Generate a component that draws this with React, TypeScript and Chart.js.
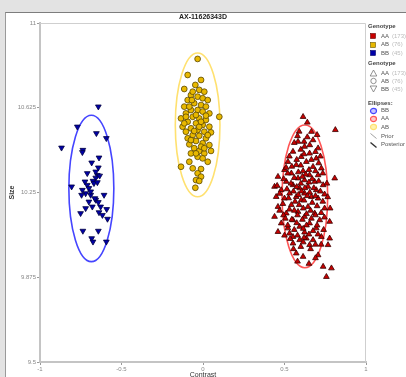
import React, { useEffect, useRef } from 'react';
import { Chart, registerables } from 'chart.js';

Chart.register(...registerables);

const TITLE = 'AX-11626343D';
const X_TITLE = 'Contrast';
const Y_TITLE = 'Size';
const X_MIN = -1;
const X_MAX = 1;
const X_STEP = 0.5;
const Y_MIN = 9.5;
const Y_MAX = 11;
const Y_STEP = 0.375;

// Genotype BB (blue, inverted triangles)
const BB_POINTS: [number, number][] = [
  [-0.642, 10.63], [-0.771, 10.541], [-0.654, 10.512], [-0.593, 10.49], [-0.868, 10.448],
  [-0.737, 10.438], [-0.74, 10.428], [-0.638, 10.404], [-0.683, 10.382], [-0.642, 10.36],
  [-0.71, 10.335], [-0.648, 10.327], [-0.658, 10.315], [-0.675, 10.301], [-0.806, 10.276],
  [-0.74, 10.261], [-0.71, 10.283], [-0.689, 10.239], [-0.72, 10.246], [-0.658, 10.217],
  [-0.642, 10.207], [-0.607, 10.239], [-0.7, 10.209], [-0.679, 10.187], [-0.72, 10.18],
  [-0.591, 10.176], [-0.638, 10.162], [-0.751, 10.158], [-0.617, 10.15], [-0.586, 10.133],
  [-0.737, 10.08], [-0.642, 10.08], [-0.683, 10.047], [-0.675, 10.032], [-0.593, 10.032],
  [-0.669, 10.291], [-0.648, 10.295], [-0.7, 10.269], [-0.663, 10.224], [-0.745, 10.239],
  [-0.628, 10.187], [-0.658, 10.342], [-0.634, 10.324], [-0.724, 10.298], [-0.689, 10.254],
];

// Genotype AB (yellow, circles)
const AB_POINTS: [number, number][] = [
  [-0.033, 10.841], [-0.094, 10.77], [-0.012, 10.748], [-0.115, 10.708], [-0.047, 10.726],
  [-0.023, 10.704], [0.008, 10.696], [-0.074, 10.681], [-0.033, 10.674], [-0.002, 10.667],
  [-0.094, 10.659], [0.029, 10.659], [-0.054, 10.645], [-0.012, 10.637], [-0.115, 10.63],
  [0.018, 10.63], [-0.074, 10.615], [-0.033, 10.615], [-0.105, 10.6], [-0.002, 10.608],
  [0.039, 10.6], [-0.063, 10.585], [0.1, 10.585], [-0.135, 10.578], [-0.023, 10.578],
  [0.018, 10.571], [-0.094, 10.563], [-0.043, 10.556], [-0.002, 10.549], [-0.125, 10.541],
  [0.039, 10.541], [-0.074, 10.534], [-0.033, 10.527], [-0.105, 10.519], [0.008, 10.519],
  [0.049, 10.516], [-0.063, 10.504], [-0.023, 10.501], [-0.094, 10.49], [0.018, 10.49],
  [-0.043, 10.478], [-0.002, 10.468], [-0.084, 10.463], [0.039, 10.46], [-0.054, 10.446],
  [-0.023, 10.434], [0.049, 10.434], [-0.074, 10.423], [0.008, 10.423], [-0.033, 10.408],
  [-0.084, 10.386], [-0.002, 10.401], [0.029, 10.386], [-0.135, 10.364], [-0.063, 10.357],
  [-0.012, 10.354], [-0.033, 10.335], [-0.012, 10.32], [-0.043, 10.305], [-0.023, 10.301],
  [-0.047, 10.271], [-0.063, 10.696], [-0.084, 10.63], [-0.043, 10.593], [0.018, 10.59],
  [-0.115, 10.556], [-0.023, 10.541], [-0.054, 10.522], [0.029, 10.504], [-0.074, 10.482],
  [-0.012, 10.453], [-0.043, 10.423], [0.008, 10.446], [-0.105, 10.585], [-0.012, 10.563],
  [-0.068, 10.659],
];

// Genotype AA (red, triangles)
const AA_POINTS: [number, number][] = [
  [0.614, 10.585], [0.812, 10.527], [0.665, 10.519], [0.583, 10.475], [0.675, 10.482],
  [0.623, 10.453], [0.706, 10.446], [0.552, 10.431], [0.654, 10.423], [0.603, 10.408],
  [0.695, 10.401], [0.521, 10.386], [0.634, 10.386], [0.572, 10.372], [0.675, 10.364],
  [0.726, 10.357], [0.5, 10.35], [0.614, 10.345], [0.542, 10.335], [0.654, 10.327],
  [0.706, 10.327], [0.46, 10.32], [0.583, 10.313], [0.808, 10.313], [0.623, 10.305],
  [0.685, 10.298], [0.511, 10.298], [0.552, 10.283], [0.737, 10.283], [0.439, 10.276],
  [0.644, 10.276], [0.593, 10.269], [0.695, 10.261], [0.48, 10.261], [0.531, 10.246],
  [0.623, 10.246], [0.746, 10.242], [0.572, 10.231], [0.665, 10.231], [0.449, 10.231],
  [0.5, 10.224], [0.603, 10.217], [0.706, 10.224], [0.46, 10.187], [0.542, 10.195],
  [0.644, 10.187], [0.746, 10.18], [0.511, 10.158], [0.583, 10.165], [0.685, 10.158],
  [0.439, 10.143], [0.623, 10.143], [0.777, 10.121], [0.552, 10.128], [0.716, 10.128],
  [0.48, 10.114], [0.654, 10.114], [0.593, 10.099], [0.521, 10.092], [0.695, 10.092],
  [0.46, 10.076], [0.623, 10.074], [0.552, 10.054], [0.726, 10.054], [0.593, 10.04],
  [0.675, 10.04], [0.777, 10.047], [0.634, 10.047], [0.552, 10.025], [0.767, 10.018],
  [0.706, 9.973], [0.572, 9.981], [0.614, 9.966], [0.737, 9.922], [0.788, 9.915],
  [0.757, 9.877], [0.494, 10.15], [0.531, 10.069], [0.654, 10.018],
  [0.56, 10.47], [0.64, 10.495], [0.6, 10.44], [0.69, 10.43], [0.53, 10.41],
  [0.62, 10.42], [0.665, 10.395], [0.575, 10.395], [0.71, 10.38], [0.545, 10.365],
  [0.6, 10.37], [0.65, 10.35], [0.69, 10.345], [0.52, 10.335], [0.585, 10.34],
  [0.63, 10.33], [0.735, 10.335], [0.56, 10.315], [0.61, 10.32], [0.67, 10.31],
  [0.495, 10.31], [0.54, 10.29], [0.6, 10.29], [0.65, 10.295], [0.71, 10.3],
  [0.575, 10.275], [0.625, 10.27], [0.68, 10.27], [0.515, 10.265], [0.555, 10.255],
  [0.605, 10.255], [0.655, 10.25], [0.72, 10.255], [0.47, 10.245], [0.585, 10.24],
  [0.64, 10.235], [0.69, 10.235], [0.525, 10.225], [0.565, 10.21], [0.62, 10.215],
  [0.67, 10.205], [0.735, 10.21], [0.49, 10.2], [0.59, 10.195], [0.615, 10.18],
  [0.7, 10.19], [0.53, 10.175], [0.56, 10.17], [0.66, 10.17], [0.725, 10.16],
  [0.58, 10.15], [0.635, 10.155], [0.69, 10.15], [0.505, 10.135], [0.545, 10.13],
  [0.61, 10.13], [0.665, 10.135], [0.745, 10.14], [0.575, 10.115], [0.635, 10.105],
  [0.7, 10.105], [0.52, 10.105], [0.56, 10.085], [0.615, 10.09], [0.675, 10.08],
  [0.74, 10.085], [0.58, 10.06], [0.65, 10.065], [0.705, 10.065], [0.535, 10.045],
  [0.62, 10.05], [0.69, 10.02], [0.6, 10.01], [0.66, 10.0], [0.555, 10.0],
  [0.64, 10.56], [0.59, 10.52], [0.7, 10.505], [0.655, 10.46], [0.58, 10.5],
  [0.62, 10.475], [0.72, 10.41], [0.51, 10.36], [0.76, 10.29], [0.765, 10.23],
  [0.455, 10.28], [0.47, 10.17], [0.78, 10.18], [0.5, 10.06], [0.725, 10.02],
  [0.615, 10.03], [0.58, 9.945], [0.65, 9.935], [0.69, 9.96],
];

// Cluster ellipses (order: BB, AA, AB)
const ELLIPSE_NAMES = ['BB', 'AA', 'AB'];
const ELLIPSE_CX = [-0.685, 0.625, -0.033];
const ELLIPSE_CY = [10.268, 10.233, 10.549];
const ELLIPSE_RX = [0.138, 0.14, 0.137];
const ELLIPSE_RY = [0.324, 0.316, 0.318];
const ELLIPSE_COLORS = ['#4545ff', '#ff5555', '#ffe170'];

const FONT = '"Liberation Sans", Arial, sans-serif';

const ellipsePlugin = {
  id: 'clusterEllipses',
  beforeDatasetsDraw(chart: any) {
    const { ctx, chartArea, scales } = chart;
    const xs = scales.x;
    const ys = scales.y;
    ctx.save();
    ctx.strokeStyle = '#cfcfcf';
    ctx.lineWidth = 1;
    ctx.beginPath();
    ctx.moveTo(chartArea.left, chartArea.top + 0.5);
    ctx.lineTo(chartArea.right - 0.5, chartArea.top + 0.5);
    ctx.lineTo(chartArea.right - 0.5, chartArea.bottom);
    ctx.stroke();
    ELLIPSE_CX.forEach((cx, i) => {
      const px = xs.getPixelForValue(cx);
      const py = ys.getPixelForValue(ELLIPSE_CY[i]);
      const rx = Math.abs(xs.getPixelForValue(cx + ELLIPSE_RX[i]) - px);
      const ry = Math.abs(ys.getPixelForValue(ELLIPSE_CY[i] + ELLIPSE_RY[i]) - py);
      ctx.beginPath();
      ctx.ellipse(px, py, rx, ry, 0, 0, Math.PI * 2);
      ctx.strokeStyle = ELLIPSE_COLORS[i];
      ctx.lineWidth = 1.6;
      ctx.stroke();
    });
    ctx.restore();
  },
};

const toXY = (pts: [number, number][]) => pts.map(([x, y]) => ({ x, y }));

const GENOTYPES = [
  { name: 'AA', color: '#c80000', border: '#3a0000', pts: AA_POINTS },
  { name: 'AB', color: '#e8b800', border: '#5a4800', pts: AB_POINTS },
  { name: 'BB', color: '#0000a8', border: '#000040', pts: BB_POINTS },
];

function Legend() {
  const txt: React.CSSProperties = {
    position: 'absolute',
    fontFamily: FONT,
    fontSize: 6,
    lineHeight: '7px',
    whiteSpace: 'nowrap',
    color: '#555',
  };
  const head = (label: string, y: number) => (
    <div style={{ ...txt, left: 368, top: y - 3.5, fontWeight: 'bold', color: '#444' }}>{label}</div>
  );
  const row = (y: number, icon: React.ReactNode, label: string, count?: string) => (
    <React.Fragment key={label + y}>
      <svg style={{ position: 'absolute', left: 369, top: y - 4 }} width={9} height={8}>{icon}</svg>
      <div style={{ ...txt, left: 381, top: y - 3.5 }}>
        {label}
        {count ? <span style={{ color: '#bbb', marginLeft: 3 }}>{count}</span> : null}
      </div>
    </React.Fragment>
  );
  const shapeIcons = [
    <polygon points="4.5,1 7.8,7 1.2,7" fill="none" stroke="#777" strokeWidth={0.8} />,
    <circle cx={4.5} cy={4} r={2.7} fill="none" stroke="#777" strokeWidth={0.8} />,
    <polygon points="1.2,1 7.8,1 4.5,7" fill="none" stroke="#777" strokeWidth={0.8} />,
  ];
  const tint = ['#c8c8ff', '#ffc8c8', '#fff2b0'];
  return (
    <>
      {head('Genotype', 26.7)}
      {row(36, <rect x={1.5} y={1.5} width={5} height={5} fill={GENOTYPES[0].color} stroke="#600" strokeWidth={0.6} />, 'AA', `(${AA_POINTS.length})`)}
      {row(44.7, <rect x={1.5} y={1.5} width={5} height={5} fill={GENOTYPES[1].color} stroke="#650" strokeWidth={0.6} />, 'AB', `(${AB_POINTS.length})`)}
      {row(53.3, <rect x={1.5} y={1.5} width={5} height={5} fill={GENOTYPES[2].color} stroke="#006" strokeWidth={0.6} />, 'BB', `(${BB_POINTS.length})`)}
      {head('Genotype', 63.3)}
      {row(73.3, shapeIcons[0], 'AA', `(${AA_POINTS.length})`)}
      {row(81, shapeIcons[1], 'AB', `(${AB_POINTS.length})`)}
      {row(89.3, shapeIcons[2], 'BB', `(${BB_POINTS.length})`)}
      {head('Ellipses:', 103.5)}
      {ELLIPSE_NAMES.map((n, i) =>
        row(110.5 + i * 8.3, <ellipse cx={4.5} cy={4} rx={3} ry={2.7} fill={tint[i]} stroke={ELLIPSE_COLORS[i]} strokeWidth={1.2} />, n)
      )}
      {row(136, <line x1={1.5} y1={1.5} x2={7.5} y2={6.5} stroke="#777" strokeWidth={0.7} />, 'Prior')}
      {row(144.5, <line x1={1.5} y1={1.5} x2={7.5} y2={6.5} stroke="#333" strokeWidth={1.4} />, 'Posterior')}
    </>
  );
}

export default function App() {
  const ref = useRef<HTMLCanvasElement | null>(null);

  useEffect(() => {
    document.body.style.margin = '0';
    const canvas = ref.current;
    if (!canvas) return;
    const tickFont = { size: 6, family: FONT };
    const chart = new Chart(canvas, {
      type: 'scatter',
      data: {
        datasets: GENOTYPES.map((g) => ({
          label: g.name,
          data: toXY(g.pts),
          backgroundColor: g.color,
          borderColor: g.border,
          borderWidth: 0.8,
          pointStyle: g.name === 'AB' ? 'circle' : 'triangle',
          rotation: g.name === 'BB' ? 180 : 0,
          pointRadius: g.name === 'AB' ? 2.9 : 3.3,
        })) as any,
      },
      options: {
        animation: false,
        responsive: false,
        maintainAspectRatio: false,
        layout: { padding: { left: 0, top: 23, right: 40, bottom: 0 } },
        plugins: { legend: { display: false }, tooltip: { enabled: false } },
        scales: {
          x: {
            type: 'linear',
            min: X_MIN,
            max: X_MAX,
            ticks: {
              stepSize: X_STEP,
              font: tickFont,
              color: '#888',
              padding: 1,
              maxRotation: 0,
              autoSkip: false,
              callback: (v: any) => String(+(+v).toFixed(2)),
            },
            grid: { drawOnChartArea: false, tickLength: 3, color: '#999' },
            border: { color: '#c4c4c4', width: 2 },
            title: { display: true, text: X_TITLE, font: { size: 7, family: FONT }, color: '#333', padding: { top: 0, bottom: -2 } },
            afterFit: (s: any) => { s.height = 15; },
          },
          y: {
            type: 'linear',
            min: Y_MIN,
            max: Y_MAX,
            ticks: {
              stepSize: Y_STEP,
              font: tickFont,
              color: '#888',
              padding: 1,
              callback: (v: any) => String(+(+v).toFixed(3)),
            },
            grid: { drawOnChartArea: false, tickLength: 3, color: '#999' },
            border: { color: '#c4c4c4', width: 2 },
            title: { display: true, text: Y_TITLE, font: { size: 7, family: FONT, weight: 'bold' }, color: '#333', padding: { top: 8, bottom: 0 } },
            afterFit: (s: any) => { s.width = 40; },
          },
        },
      } as any,
      plugins: [ellipsePlugin],
    });
    return () => chart.destroy();
  }, []);

  return (
    <div style={{ position: 'relative', width: 406, height: 377, overflow: 'hidden', background: '#e3e3e3' }}>
      <div
        style={{
          position: 'absolute',
          left: 5,
          top: 12,
          width: 420,
          height: 380,
          background: '#fff',
          borderTop: '1px solid #7d7d7d',
          borderLeft: '1px solid #9a9a9a',
        }}
      />
      <canvas ref={ref} width={406} height={377} style={{ position: 'absolute', left: 0, top: 0 }} />
      <div
        style={{
          position: 'absolute',
          left: 40,
          width: 326,
          top: 13,
          textAlign: 'center',
          fontFamily: FONT,
          fontSize: 7,
          fontWeight: 'bold',
          lineHeight: '8px',
          color: '#222',
        }}
      >
        {TITLE}
      </div>
      <Legend />
    </div>
  );
}
